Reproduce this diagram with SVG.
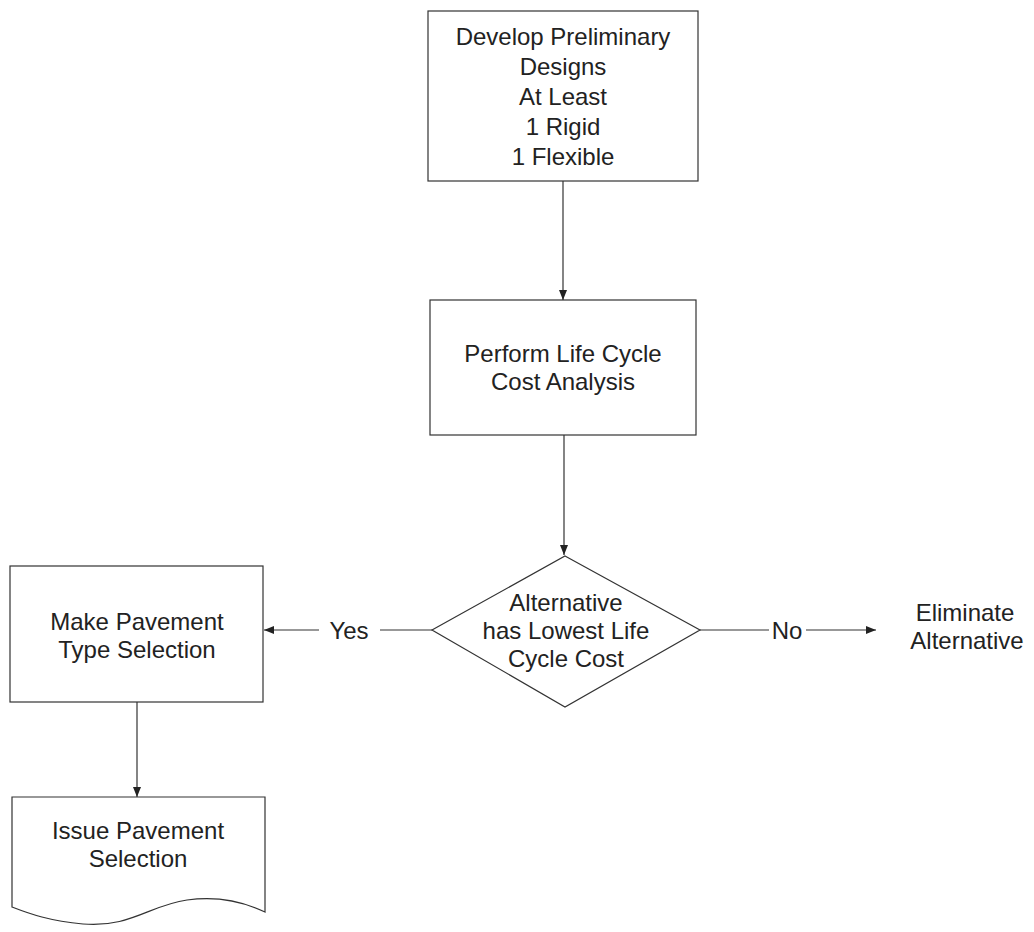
<svg xmlns="http://www.w3.org/2000/svg" width="1034" height="932" viewBox="0 0 1034 932">
<defs>
<style>
.shape{fill:#fff;stroke:#333;stroke-width:1.2}
.conn{fill:none;stroke:#333;stroke-width:1.2}
text{font-family:"Liberation Sans",Arial,sans-serif;font-size:24px;fill:#222;text-anchor:middle;dominant-baseline:central}
</style>
<marker id="arr" viewBox="0 0 10 10" refX="10" refY="5" markerWidth="10" markerHeight="10" markerUnits="userSpaceOnUse" orient="auto">
<path d="M0,1 L10,5 L0,9 Z" fill="#222"/>
</marker>
</defs>
<rect width="1034" height="932" fill="#fff"/>
<g id="connectors">
<line class="conn" x1="563" y1="181" x2="563" y2="300" marker-end="url(#arr)"/>
<line class="conn" x1="564" y1="435" x2="564" y2="555" marker-end="url(#arr)"/>
<line class="conn" x1="432" y1="630" x2="380" y2="630"/>
<line class="conn" x1="319" y1="630" x2="264" y2="630" marker-end="url(#arr)"/>
<text x="349" y="630">Yes</text>
<line class="conn" x1="700" y1="630" x2="769" y2="630"/>
<line class="conn" x1="806" y1="630" x2="876" y2="630" marker-end="url(#arr)"/>
<text x="787" y="630">No</text>
<line class="conn" x1="137" y1="702" x2="137" y2="797" marker-end="url(#arr)"/>
</g>
<g id="node-develop">
<rect class="shape" x="428" y="11" width="270" height="170"/>
<text x="563" y="36">Develop Preliminary</text>
<text x="563" y="66">Designs</text>
<text x="563" y="96">At Least</text>
<text x="563" y="126">1 Rigid</text>
<text x="563" y="156">1 Flexible</text>
</g>
<g id="node-lcca">
<rect class="shape" x="430" y="300" width="266" height="135"/>
<text x="563" y="353">Perform Life Cycle</text>
<text x="563" y="381">Cost Analysis</text>
</g>
<g id="node-decision">
<polygon class="shape" points="565,556 700,630 565,707 432,630"/>
<text x="566" y="602">Alternative</text>
<text x="566" y="630">has Lowest Life</text>
<text x="566" y="658">Cycle Cost</text>
</g>
<g id="node-select">
<rect class="shape" x="10" y="566" width="253" height="136"/>
<text x="137" y="621">Make Pavement</text>
<text x="137" y="649">Type Selection</text>
</g>
<g id="node-issue">
<path class="shape" d="M12,797 H265 V912 C240,900 215,896 187,900 C150,905 130,928 83,924 C50,921 30,914 12,907 Z"/>
<text x="138" y="830">Issue Pavement</text>
<text x="138" y="858">Selection</text>
</g>
<g id="node-eliminate">
<text x="965" y="612">Eliminate</text>
<text x="967" y="640">Alternative</text>
</g>
</svg>
